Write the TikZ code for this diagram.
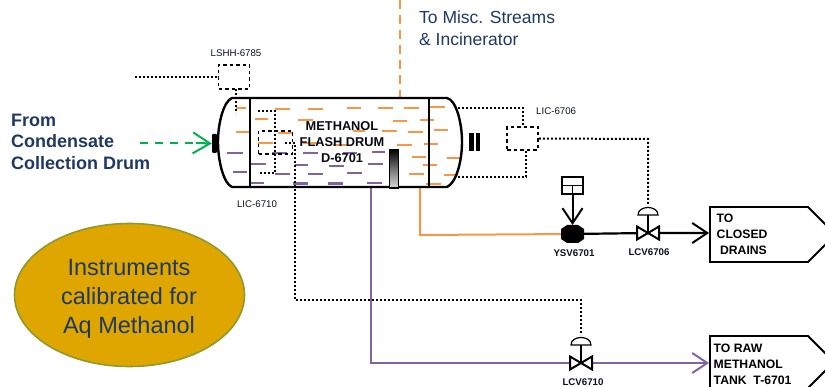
\documentclass[tikz,border=0pt]{standalone}
\usepackage{fontspec}
\setmainfont{Liberation Sans}
\usetikzlibrary{arrows.meta,calc,shapes.geometric}
\definecolor{orangeline}{HTML}{F79646}
\definecolor{purpleline}{HTML}{8064A2}
\definecolor{greenline}{HTML}{00B050}
\definecolor{navytext}{HTML}{1F3864}
\definecolor{golden}{HTML}{DFA600}
\definecolor{olive}{HTML}{8E9A2B}
\tikzset{
  tag/.style={inner sep=0pt,text=black!70!navytext,font=\fontsize{9.7}{10}\selectfont},
  tagb/.style={tag,font=\fontsize{9.7}{10}\selectfont\bfseries},
  inst/.style={draw=black,line width=1.7pt,dash pattern=on 3.5pt off 3pt,inner sep=0pt,rectangle},
  dots/.style={draw=black,line width=2pt,dash pattern=on 2pt off 2pt},
  barb/.style={-{Straight Barb[length=15pt,width=20pt,line width=2pt]}},
  od/.style={draw=orangeline,line width=1.8pt},
  pd/.style={draw=purpleline,line width=1.8pt},
  ctrlvalve/.pic={
    \draw[black,line width=1.4pt] (0,-18) -- (0,0);
    \draw[black,line width=1.2pt,fill=white] (-10,-18) .. controls (-10,-28) and (10,-28) .. (10,-18) -- cycle;
    \draw[black,line width=2pt,fill=white] (-11,-6.5) -- (11,6.5) -- (11,-6.5) -- (-11,6.5) -- cycle;
  },
  target/.style={draw=black,line width=1.8pt,fill=white}
}
\begin{document}
\begin{tikzpicture}[x=1pt,y=-1pt]
\useasboundingbox (0,0) rectangle (825,387);
\clip (0,0) rectangle (825,387);

% coordinates
\coordinate (topT) at (400,97);
\coordinate (topS) at (400,0);
\coordinate (orB) at (420,187);
\coordinate (orC) at (420,235);
\coordinate (puB) at (371,187);
\coordinate (puC) at (371,363);
\coordinate (ysv) at (572.5,234);
\coordinate (lcv6) at (648,233);
\coordinate (lcv7) at (581,363);
\coordinate (greenS) at (140,143);

% ellipse
\node[ellipse,draw=olive,line width=1.6pt,fill=golden,minimum width=230pt,minimum height=143pt,inner sep=0pt] (note) at (129.5,295) {};
\node[text=navytext,align=center,inner sep=0pt,font=\fontsize{23.5}{29.2}\selectfont] (notetext) at (129,299) {Instruments\\calibrated for\\Aq Methanol};

% left and top text
\node[anchor=north west,inner sep=0pt,text=navytext,align=left,font=\fontsize{18}{21.7}\selectfont\bfseries] (fromtext) at (11,113.5) {From\\Condensate\\Collection Drum};
\node[anchor=north west,inner sep=0pt,text=navytext,align=left,font=\fontsize{17.5}{22}\selectfont] (totext) at (419,10.5) {To Misc. Streams\\\& Incinerator};

% dashed orange vent
\draw[orangeline,line width=2.2pt,dash pattern=on 9pt off 6pt] (topS) -- (topT);

% process lines
\draw[orangeline,line width=2pt] (orB) -- (orC) -- (ysv);
\draw[black,line width=2.2pt,barb] (ysv) -- (lcv6) -- (709,233);
\draw[purpleline,line width=2.4pt] (puB) -- (puC) -- (lcv7);
\draw[purpleline,line width=2.4pt,barb] (lcv7) -- (709,363);

% target boxes
\draw[target] (710,207) -- (808,207) -- (826,225) -- (826,244) -- (808,262) -- (710,262) -- cycle;
\draw[target] (710,336) -- (808,336) -- (826,354) -- (826,370) -- (808,388) -- (710,390) -- cycle;
\node[anchor=north west,inner sep=0pt,align=left,font=\fontsize{12.2}{16}\selectfont\bfseries] (drainstext) at (716.5,214) {TO\\CLOSED\\\ DRAINS};
\node[anchor=north west,inner sep=0pt,align=left,font=\fontsize{12.2}{16}\selectfont\bfseries] (tanktext) at (713.5,344) {TO RAW\\METHANOL\\TANK\ \ T-6701};

% drum liquid dashes
\foreach \a/\b/\c in {236/246/108,255/268/119,236/250/132,258/273/143,275/290/109,308/323/109,298/313/120,278/293/133,303/317/143,347/361/108,378/393/108,404/419/108,430/445/107,393/407/121,420/434/120,382/397/131,408/423/132,434/448/130,397/412/145,424/438/144,412/426/157,447/461/158,423/437/165,409/424/174,444/458/175,353/365/131,333/348/145}
  \draw[od] (\a,\c) -- (\b,\c);
\draw[od,line width=2.4pt] (426,184) -- (441,184);
\foreach \a/\b/\c in {227/243/153,233/247/172,251/266/164,249/264/183,272/287/153,303/318/153,295/308/165,275/290/174,308/323/174,372/385/152,343/357/153,329/344/166,368/383/164,347/362/173,367/382/183}
  \draw[pd] (\a,\c) -- (\b,\c);
\draw[pd,line width=3pt] (293,184) -- (308,184);
\draw[pd,line width=3pt] (328,184) -- (343,184);

% drum
\draw[black,line width=2.4pt] (232,98) -- (447,98) .. controls (456,100) and (462,122) .. (462,142) .. controls (462,162) and (456,183) .. (447,187) -- (232,187) .. controls (224,184) and (218,162) .. (218,142) .. controls (218,122) and (224,101) .. (232,98) -- cycle;
\draw[black,line width=1.4pt] (250,98) -- (250,187);
\draw[black,line width=1.6pt] (429,98) -- (429,187);

% nozzles and sight glass
\node[fill=black,rounded corners=1pt,minimum width=5pt,minimum height=19pt,inner sep=0pt] (nozzle) at (214.5,143.5) {};
\fill[black] (469,133) rectangle (473.5,151);
\fill[black] (476,133) rectangle (479.5,151);
\draw[black,line width=1.5pt,top color=black,bottom color=black!15,middle color=black!55] (389.5,149.5) rectangle (398.5,188);

% green inlet
\draw[greenline,line width=2pt,dash pattern=on 8pt off 7pt] (greenS) -- (205,143);
\draw[greenline,line width=2pt,-{Straight Barb[length=17pt,width=21pt,line width=2pt]}] (196,143) -- (nozzle.west);

% drum text
\node[inner sep=0pt,align=center,text=black!85!navytext,font=\fontsize{12.8}{16.2}\selectfont\bfseries] (drumtext) at (342,142) {METHANOL\\FLASH DRUM\\D-6701};

% instruments
\node[inst,minimum width=31pt,minimum height=24pt] (lshh) at (234,77) {};
\node[inst,minimum width=34pt,minimum height=23pt] (lic10) at (275.5,142.5) {};
\node[inst,minimum width=31pt,minimum height=23pt] (lic06) at (522.5,138.5) {};

% dotted signal lines
\draw[dots] (135,77) -- (lshh.west);
\draw[dots] (236,89) -- (236,113);
\draw[dots] (258,111) -- (275,111) -- (275,173) -- (258,173);
\draw[dots] (285,143) -- (295,143) -- (295,300) -- (581,300) -- (581,335);
\draw[dots] (458,108) -- (523,108) -- (523,127);
\draw[dots] (458,177) -- (526,177) -- (526,150);
\draw[dots] (lic06.east) -- (648,139) -- (648,205);

% valves
\pic at (lcv6) {ctrlvalve};
\pic at (lcv7) {ctrlvalve};

% solenoid valve
\draw[black,line width=2pt,barb] (572.5,194) -- (572.5,225);
\fill[black] (561,229) -- (567,225) -- (578,225) -- (584,229) -- (584,239) -- (578,243) -- (567,243) -- (561,239) -- cycle;
\draw[black,line width=1.6pt,fill=white] (562,177) rectangle (583,194);
\draw[black,line width=1.6pt] (562,185.5) -- (583,185.5) (572.5,185.5) -- (572.5,194);

% tags
\node[tag] (t1) at (236,53) {LSHH-6785};
\node[tag] (t2) at (257,204) {LIC-6710};
\node[tag,anchor=west] (t3) at (536,111) {LIC-6706};
\node[tagb] (t4) at (574,253) {YSV6701};
\node[tagb] (t5) at (649,252) {LCV6706};
\node[tagb] (t6) at (583,382) {LCV6710};
\end{tikzpicture}
\end{document}
